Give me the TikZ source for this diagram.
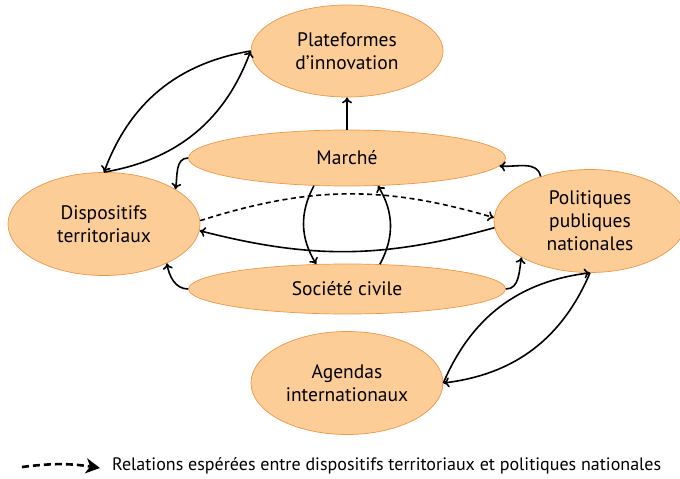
\documentclass[tikz,border=0pt]{standalone}
\usepackage{fontspec}
\setmainfont{PT Sans}
\usetikzlibrary{shapes.geometric,arrows.meta}
\definecolor{boxfill}{RGB}{252,205,150}
\definecolor{boxline}{RGB}{240,150,70}
\begin{document}
\begin{tikzpicture}[x=1pt,y=-1pt, >={To[length=6pt,width=10pt]},
    main/.style = {ellipse, draw=boxline, fill=boxfill, line width=0.7pt, inner sep=0pt, align=center, font=\fontsize{19.5}{23}\selectfont},
    wide/.style = {main, minimum width=317pt, minimum height=56pt},
    round/.style = {main, minimum width=192pt, minimum height=103pt},
    link/.style = {->, line width=1.6pt}]
        \useasboundingbox (0,0) rectangle (680,479);
        \node[round, minimum height=92pt] (plat) at (347,51) {Plateformes\\d’innovation};
        \node[wide] (marche) at (347,158) {Marché};
        \node[round] (disp) at (104,224) {Dispositifs\\territoriaux};
        \node[round] (polit) at (590,221) {Politiques\\publiques\\nationales};
        \node[wide, minimum height=50pt] (soc) at (347,289) {Société civile};
        \node[round] (agenda) at (347,383) {Agendas\\internationaux};
        \draw[link] (disp.north) to[bend right=30] (plat.west);
        \draw[link] (plat.west) to[bend right=30] (disp.north);
        \draw[link] (marche.north) -- (plat.south);
        \draw[link] (marche.west) to[out=180, in=80] (disp.26);
        \draw[link] (polit.138) to[out=100, in=-5] (marche.-3);
        \draw[link] (soc.west) to[out=180, in=-80] (disp.-32);
        \draw[link] (soc.east) to[out=0, in=-100] (polit.208);
        \draw[link] (marche.220) to[bend right=30] (soc.141);
        \draw[link] (soc.37) to[bend right=30] (marche.318);
        \draw[link, dash pattern=on 5pt off 3.5pt] (disp.2) to[bend left=17] (polit.178);
        \draw[link] (polit.184) to[bend left=15] (disp.356);
        \draw[link] (agenda.east) to[bend left=30] (polit.south);
        \draw[link] (polit.south) to[bend left=30] (agenda.east);
        % legend
        \coordinate (ls) at (22,467);
        \coordinate (le) at (100,468);
        \draw[-{Stealth[length=14pt,width=15pt,inset=4pt]}, line width=2.6pt, dash pattern=on 7pt off 4pt] (ls) to[bend left=8] (le);
        \node[anchor=west, inner sep=0pt, font=\fontsize{18}{21}\selectfont] (legend) at (112,466) {Relations espérées entre dispositifs territoriaux et politiques nationales};
\end{tikzpicture}
\end{document}
